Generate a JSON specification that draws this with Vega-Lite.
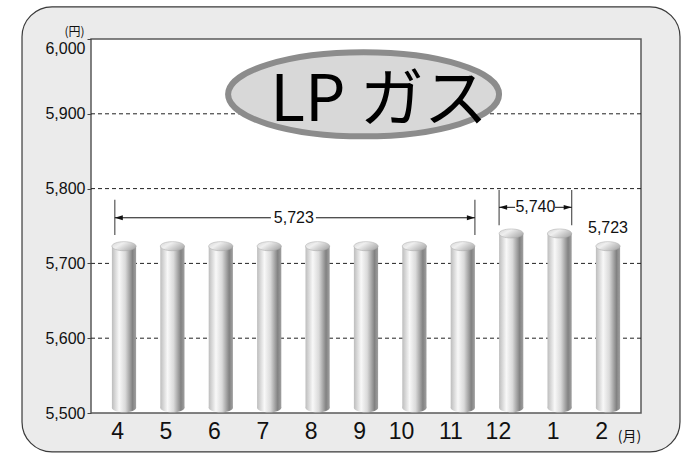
{
  "$schema": "https://vega.github.io/schema/vega-lite/v6.json",
  "width": 550,
  "height": 374,
  "autosize": {"type": "none"},
  "padding": {"left": 91, "top": 39, "right": 46, "bottom": 41},
  "background": "white",
  "config": {"view": {"stroke": null}, "font": "Liberation Sans"},
  "datasets": {
    "bars": [
      {"month": "4", "value": 5723},
      {"month": "5", "value": 5723},
      {"month": "6", "value": 5723},
      {"month": "7", "value": 5723},
      {"month": "8", "value": 5723},
      {"month": "9", "value": 5723},
      {"month": "10", "value": 5723},
      {"month": "11", "value": 5723},
      {"month": "12", "value": 5740},
      {"month": "1", "value": 5740},
      {"month": "2", "value": 5723}
    ],
    "grid": [{"g": 5600}, {"g": 5700}, {"g": 5800}, {"g": 5900}],
    "one": [{}]
  },
  "data": {"name": "bars"},
  "layer": [
    {
      "data": {"name": "one"},
      "mark": {"type": "rect", "fill": "#ebebeb", "stroke": "#3a3a3a", "strokeWidth": 1.2, "cornerRadius": 30, "clip": false},
      "encoding": {
        "x": {"datum": "4", "type": "nominal", "bandPosition": -3.715},
        "x2": {"datum": "2", "bandPosition": 3.475},
        "y": {"datum": 6043, "type": "quantitative"},
        "y2": {"datum": 5448}
      }
    },
    {
      "data": {"name": "one"},
      "mark": {"type": "rect", "fill": "white", "stroke": "#5a5a5a", "strokeWidth": 1.5},
      "encoding": {
        "x": {"datum": "4", "type": "nominal", "bandPosition": -0.864},
        "x2": {"datum": "2", "bandPosition": 1.864},
        "y": {"datum": 6000, "type": "quantitative"},
        "y2": {"datum": 5500}
      }
    },
    {
      "data": {"name": "grid"},
      "mark": {"type": "rule", "stroke": "#222", "strokeDash": [4, 3], "strokeWidth": 1},
      "encoding": {"y": {"field": "g", "type": "quantitative"}}
    },
    {
      "data": {"name": "one"},
      "mark": {"type": "point", "shape": "M-1,0A1,0.31,0,1,0,1,0A1,0.31,0,1,0,-1,0Z", "size": 73441, "filled": true, "fill": "#d8d8d8", "stroke": "#8c8c8c", "strokeWidth": 6, "opacity": 1, "clip": false},
      "encoding": {
        "x": {"datum": "9", "type": "nominal", "bandPosition": 0.4},
        "y": {"datum": 5926, "type": "quantitative"}
      }
    },
    {
      "data": {"name": "one"},
      "mark": {"type": "text", "text": "LP ガス", "font": "Noto Sans CJK JP", "fontSize": 64, "align": "center", "baseline": "middle", "color": "#000"},
      "encoding": {
        "x": {"datum": "9", "type": "nominal", "bandPosition": 1.04},
        "y": {"datum": 5916, "type": "quantitative"}
      }
    },
    {
      "mark": {"type": "point", "shape": "M-1,0A1,0.375,0,1,0,1,0A1,0.375,0,1,0,-1,0Z", "size": 586, "filled": true, "opacity": 1, "strokeWidth": 0,
        "fill": {"gradient": "linear", "x1": 0, "y1": 0, "x2": 1, "y2": 0, "stops": [{"offset": 0, "color": "#bdbdbd"}, {"offset": 0.3, "color": "#f8f8f8"}, {"offset": 0.55, "color": "#dadada"}, {"offset": 0.85, "color": "#828282"}, {"offset": 1, "color": "#a0a0a0"}]}},
      "encoding": {
        "x": {"field": "month", "type": "nominal"},
        "y": {"datum": 5507, "type": "quantitative"}
      }
    },
    {
      "mark": {"type": "bar",
        "fill": {"gradient": "linear", "x1": 0, "y1": 0, "x2": 1, "y2": 0, "stops": [{"offset": 0, "color": "#bdbdbd"}, {"offset": 0.3, "color": "#f8f8f8"}, {"offset": 0.55, "color": "#dadada"}, {"offset": 0.85, "color": "#828282"}, {"offset": 1, "color": "#a0a0a0"}]}},
      "encoding": {
        "x": {"field": "month", "type": "nominal",
          "scale": {"domain": ["4", "5", "6", "7", "8", "9", "10", "11", "12", "1", "2"], "paddingInner": 0.5, "paddingOuter": 0.432},
          "axis": {"title": "(月)", "titleX": 538, "titleY": 23, "titleFont": "Noto Sans CJK JP", "titleFontSize": 14, "titleFontWeight": "normal", "titleAlign": "center", "titleBaseline": "middle", "titleColor": "#111",
            "labelAngle": 0, "labelFontSize": 23, "labelPadding": 18, "labelBaseline": "middle", "labelColor": "#111", "ticks": false, "domain": false, "grid": false, "zindex": 1}},
        "y": {"field": "value", "type": "quantitative",
          "scale": {"domain": [5500, 6000], "nice": false, "zero": false},
          "axis": {"values": [5500, 5600, 5700, 5800, 5900, 6000], "format": ",d", "labelFontSize": 16, "labelColor": "#111", "labelPadding": 2, "tickSize": 4, "tickColor": "#444", "domain": false, "grid": false, "zindex": 1,
            "labelOffset": {"condition": {"test": "datum.value === 6000", "value": 9}, "value": 0},
            "title": "(円)", "titleAngle": 0, "titleX": -17, "titleY": -8, "titleAlign": "center", "titleBaseline": "middle", "titleFont": "Noto Sans CJK JP", "titleFontSize": 12, "titleFontWeight": "normal", "titleColor": "#111"}},
        "y2": {"datum": 5507}
      }
    },
    {
      "mark": {"type": "point", "shape": "M-1,0A1,0.375,0,1,0,1,0A1,0.375,0,1,0,-1,0Z", "size": 586, "filled": true, "opacity": 1, "stroke": "#a8a8a8", "strokeWidth": 0.5,
        "fill": {"gradient": "linear", "x1": 0, "y1": 0, "x2": 1, "y2": 0.6, "stops": [{"offset": 0, "color": "#d4d4d4"}, {"offset": 0.4, "color": "#efefef"}, {"offset": 1, "color": "#b0b0b0"}]}},
      "encoding": {
        "x": {"field": "month", "type": "nominal"},
        "y": {"field": "value", "type": "quantitative"}
      }
    },
    {
      "data": {"name": "one"},
      "mark": {"type": "rule", "stroke": "#555", "strokeWidth": 1.2},
      "encoding": {"x": {"datum": "4", "type": "nominal", "bandPosition": 0.12}, "y": {"datum": 5785, "type": "quantitative"}, "y2": {"datum": 5738}}
    },
    {
      "data": {"name": "one"},
      "mark": {"type": "rule", "stroke": "#555", "strokeWidth": 1.2},
      "encoding": {"x": {"datum": "11", "type": "nominal", "bandPosition": 1}, "y": {"datum": 5785, "type": "quantitative"}, "y2": {"datum": 5738}}
    },
    {
      "data": {"name": "one"},
      "mark": {"type": "rule", "stroke": "#111", "strokeWidth": 1},
      "encoding": {"x": {"datum": "4", "type": "nominal", "bandPosition": 0.12}, "x2": {"datum": "7", "bandPosition": 0.57}, "y": {"datum": 5761, "type": "quantitative"}}
    },
    {
      "data": {"name": "one"},
      "mark": {"type": "rule", "stroke": "#111", "strokeWidth": 1},
      "encoding": {"x": {"datum": "8", "type": "nominal", "bandPosition": 0.43}, "x2": {"datum": "11", "bandPosition": 1}, "y": {"datum": 5761, "type": "quantitative"}}
    },
    {
      "data": {"name": "one"},
      "mark": {"type": "point", "shape": "M0,0L2,-0.6L2,0.6Z", "size": 64, "filled": true, "fill": "#111", "opacity": 1, "strokeWidth": 0},
      "encoding": {"x": {"datum": "4", "type": "nominal", "bandPosition": 0.12}, "y": {"datum": 5761, "type": "quantitative"}}
    },
    {
      "data": {"name": "one"},
      "mark": {"type": "point", "shape": "M0,0L-2,-0.6L-2,0.6Z", "size": 64, "filled": true, "fill": "#111", "opacity": 1, "strokeWidth": 0},
      "encoding": {"x": {"datum": "11", "type": "nominal", "bandPosition": 1}, "y": {"datum": 5761, "type": "quantitative"}}
    },
    {
      "data": {"name": "one"},
      "mark": {"type": "text", "text": "5,723", "fontSize": 16, "align": "center", "baseline": "middle", "color": "#111"},
      "encoding": {"x": {"datum": "7", "type": "nominal", "bandPosition": 1.52}, "y": {"datum": 5761, "type": "quantitative"}}
    },
    {
      "data": {"name": "one"},
      "mark": {"type": "rule", "stroke": "#555", "strokeWidth": 1.2},
      "encoding": {"x": {"datum": "12", "type": "nominal", "bandPosition": 0}, "y": {"datum": 5798, "type": "quantitative"}, "y2": {"datum": 5751}}
    },
    {
      "data": {"name": "one"},
      "mark": {"type": "rule", "stroke": "#555", "strokeWidth": 1.2},
      "encoding": {"x": {"datum": "1", "type": "nominal", "bandPosition": 1}, "y": {"datum": 5798, "type": "quantitative"}, "y2": {"datum": 5751}}
    },
    {
      "data": {"name": "one"},
      "mark": {"type": "rule", "stroke": "#111", "strokeWidth": 1},
      "encoding": {"x": {"datum": "12", "type": "nominal", "bandPosition": 0}, "x2": {"datum": "12", "bandPosition": 0.66}, "y": {"datum": 5775, "type": "quantitative"}}
    },
    {
      "data": {"name": "one"},
      "mark": {"type": "rule", "stroke": "#111", "strokeWidth": 1},
      "encoding": {"x": {"datum": "1", "type": "nominal", "bandPosition": 0.31}, "x2": {"datum": "1", "bandPosition": 1}, "y": {"datum": 5775, "type": "quantitative"}}
    },
    {
      "data": {"name": "one"},
      "mark": {"type": "point", "shape": "M0,0L2,-0.6L2,0.6Z", "size": 64, "filled": true, "fill": "#111", "opacity": 1, "strokeWidth": 0},
      "encoding": {"x": {"datum": "12", "type": "nominal", "bandPosition": 0}, "y": {"datum": 5775, "type": "quantitative"}}
    },
    {
      "data": {"name": "one"},
      "mark": {"type": "point", "shape": "M0,0L-2,-0.6L-2,0.6Z", "size": 64, "filled": true, "fill": "#111", "opacity": 1, "strokeWidth": 0},
      "encoding": {"x": {"datum": "1", "type": "nominal", "bandPosition": 1}, "y": {"datum": 5775, "type": "quantitative"}}
    },
    {
      "data": {"name": "one"},
      "mark": {"type": "text", "text": "5,740", "fontSize": 16, "align": "center", "baseline": "middle", "color": "#111"},
      "encoding": {"x": {"datum": "12", "type": "nominal", "bandPosition": 1.5}, "y": {"datum": 5775, "type": "quantitative"}}
    },
    {
      "data": {"name": "one"},
      "mark": {"type": "text", "text": "5,723", "fontSize": 16, "align": "center", "baseline": "middle", "color": "#111"},
      "encoding": {"x": {"datum": "2", "type": "nominal", "bandPosition": 0.5}, "y": {"datum": 5747, "type": "quantitative"}}
    }
  ]
}
